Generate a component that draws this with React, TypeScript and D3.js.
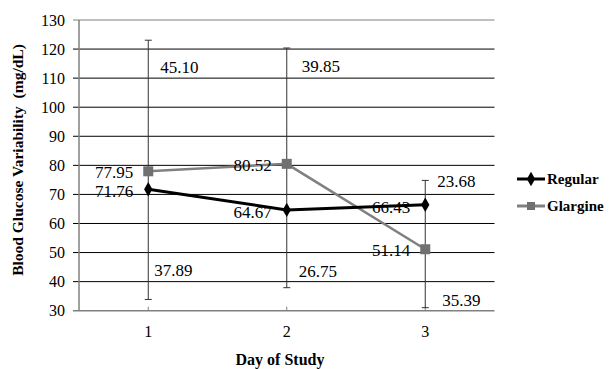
import React from 'react';
import * as d3 from 'd3';

// data
const days = ['1', '2', '3'];
const regular = [71.76, 64.67, 66.43];
const glargine = [77.95, 80.52, 51.14];
const upperErr = [45.10, 39.85, 23.68]; // added to Glargine
const lowerErr = [37.89, 26.75, 35.39]; // taken from Regular
const yTicks = [30, 40, 50, 60, 70, 80, 90, 100, 110, 120, 130];

// where the error-value labels sit (value units on y, px right of the bar)
const upperLabelAt = [113.8, 114.2, 74.6];
const lowerLabelAt = [44.0, 43.8, 33.7];
const upperLabelDx = [12, 15, 12];
const lowerLabelDx = [6, 12, 17];

const W = 609;
const H = 369;
const m = { left: 79, right: 114.5, top: 20, bottom: 58.3 };
const serif = "'Liberation Serif', 'DejaVu Serif', serif";

export default function App() {
  const x = d3.scaleBand().domain(days).range([m.left, W - m.right]);
  const cx = (d: string) => (x(d) as number) + x.bandwidth() / 2;
  const y = d3.scaleLinear().domain([30, 130]).range([H - m.bottom, m.top]);

  const line = d3.line<number>().x((_, i) => cx(days[i])).y(v => y(v));
  const diamond = d3.symbol().type(d3.symbolDiamond).size(60);

  return (
    <svg width={W} height={H}
      style={{ position: 'absolute', left: 0, top: 0, background: '#fff', fontFamily: serif }}>
      {/* grid */}
      {yTicks.map(t => (
        <g key={t}>
          <line x1={m.left - 6} x2={W - m.right} y1={y(t)} y2={y(t)}
            stroke={t === 130 || t === 30 ? '#808080' : '#000'} strokeWidth={t === 30 ? 1.5 : 1} />
          <text x={m.left - 14} y={y(t)} dy="0.35em" textAnchor="end" fontSize={16}>{t}</text>
        </g>
      ))}
      <line x1={m.left} x2={m.left} y1={m.top} y2={y(30)} stroke="#808080" strokeWidth={1.5} />
      {days.map(d => (
        <g key={d}>
          <line x1={cx(d)} x2={cx(d)} y1={y(30) - 4} y2={y(30)} stroke="#808080" />
          <text x={cx(d)} y={y(30) + 26} textAnchor="middle" fontSize={16}>{d}</text>
        </g>
      ))}

      {/* error bars */}
      {days.map((d, i) => {
        const top = y(glargine[i] + upperErr[i]);
        const bot = y(regular[i] - lowerErr[i]);
        return (
          <g key={'e' + d} stroke="#333" strokeWidth={1}>
            <line x1={cx(d)} x2={cx(d)} y1={top} y2={bot} />
            <line x1={cx(d) - 3.5} x2={cx(d) + 3.5} y1={top} y2={top} />
            <line x1={cx(d) - 3.5} x2={cx(d) + 3.5} y1={bot} y2={bot} />
          </g>
        );
      })}

      {/* series */}
      <path d={line(glargine) as string} fill="none" stroke="#808080" strokeWidth={2.5} />
      <path d={line(regular) as string} fill="none" stroke="#000" strokeWidth={3} />
      {days.map((d, i) => (
        <g key={'m' + d}>
          <rect x={cx(d) - 5} y={y(glargine[i]) - 5} width={10} height={10} fill="#707070" />
          <path d={diamond() as string} transform={`translate(${cx(d)},${y(regular[i])})`} fill="#000" />
        </g>
      ))}

      {/* value labels */}
      {days.map((d, i) => (
        <g key={'l' + d} fontSize={17}>
          <text x={cx(d) - 15} y={y(glargine[i]) + 1} dy="0.35em" textAnchor="end">{glargine[i].toFixed(2)}</text>
          <text x={cx(d) - 15} y={y(regular[i]) + 2} dy="0.35em" textAnchor="end">{regular[i].toFixed(2)}</text>
          <text x={cx(d) + upperLabelDx[i]} y={y(upperLabelAt[i])} dy="0.35em">{upperErr[i].toFixed(2)}</text>
          <text x={cx(d) + lowerLabelDx[i]} y={y(lowerLabelAt[i])} dy="0.35em">{lowerErr[i].toFixed(2)}</text>
        </g>
      ))}

      {/* axis titles */}
      <text x={280} y={359} dy="0.35em" textAnchor="middle" fontSize={16} fontWeight="bold">Day of Study</text>
      <text transform={`translate(18,${160}) rotate(-90)`} dy="0.35em" textAnchor="middle" fontSize={15.5}
        fontWeight="bold" style={{ whiteSpace: 'pre' }}>{'Blood Glucose Variability  (mg/dL)'}</text>

      {/* legend */}
      <g fontSize={15} fontWeight="bold">
        <line x1={517} x2={545} y1={179} y2={179} stroke="#000" strokeWidth={3} />
        <path d={diamond() as string} transform="translate(531,179)" fill="#000" />
        <text x={547} y={179} dy="0.35em">Regular</text>
        <line x1={517} x2={545} y1={206} y2={206} stroke="#808080" strokeWidth={3} />
        <rect x={527} y={202} width={8} height={8} fill="#707070" />
        <text x={547} y={206} dy="0.35em">Glargine</text>
      </g>
    </svg>
  );
}
